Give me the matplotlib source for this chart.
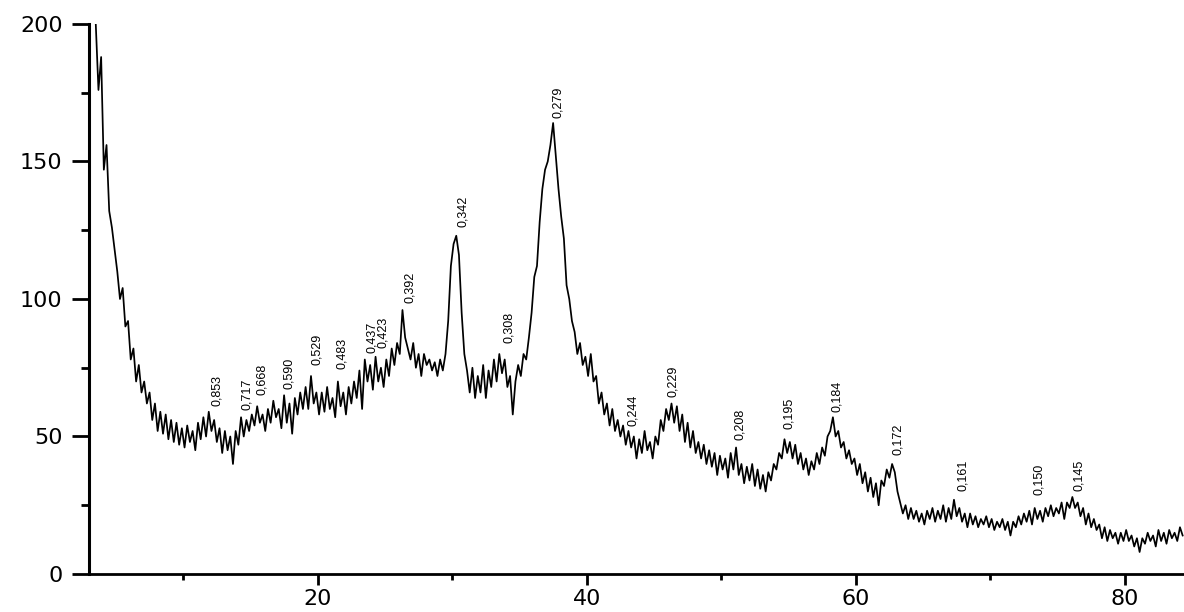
import numpy as np
import matplotlib
matplotlib.use("Agg")
import matplotlib.pyplot as plt
from matplotlib.ticker import MultipleLocator

# scan: 2theta from 3.5 deg in 0.2 deg steps, intensity
counts = [
    200, 176, 188,                 # 3.5 - 3.9
    147, 156, 132, 126, 118,       # 4
    110, 100, 104, 90, 92,         # 5
    78, 82, 70, 76, 66,            # 6
    70, 62, 66, 56, 62,            # 7
    52, 59, 51, 58, 49,            # 8
    56, 48, 55, 47, 53,            # 9
    46, 54, 48, 52, 45,            # 10
    55, 49, 57, 50, 59,            # 11
    52, 56, 48, 53, 44,            # 12
    52, 45, 50, 40, 52,            # 13
    47, 57, 50, 56, 52,            # 14
    58, 54, 61, 55, 58,            # 15
    52, 60, 55, 63, 57,            # 16
    60, 53, 65, 55, 62,            # 17
    51, 64, 58, 66, 60,            # 18
    68, 60, 72, 62, 66,            # 19
    58, 66, 59, 68, 60,            # 20
    64, 57, 70, 61, 66,            # 21
    58, 68, 62, 70, 64,            # 22
    74, 60, 78, 70, 76,            # 23
    67, 79, 70, 75, 68,            # 24
    78, 72, 82, 76, 84,            # 25
    80, 96, 86, 82, 78,            # 26
    84, 75, 80, 72, 80,            # 27
    76, 78, 74, 77, 72,            # 28
    78, 74, 80, 92, 112,           # 29
    120, 123, 116, 95, 80,         # 30
    74, 66, 75, 64, 72,            # 31
    66, 76, 64, 74, 68,            # 32
    78, 70, 80, 73, 78,            # 33
    68, 72, 58, 70, 76,            # 34
    72, 80, 78, 86, 95,            # 35
    108, 112, 128, 140, 147,       # 36
    150, 156, 164, 152, 140,       # 37
    130, 122, 105, 100, 92,        # 38
    88, 80, 84, 76, 79,            # 39
    72, 80, 70, 72, 62,            # 40
    66, 58, 62, 54, 60,            # 41
    52, 56, 50, 54, 47,            # 42
    52, 46, 50, 42, 49,            # 43
    44, 52, 45, 48, 42,            # 44
    50, 47, 56, 52, 60,            # 45
    56, 62, 55, 61, 52,            # 46
    58, 48, 55, 46, 52,            # 47
    44, 48, 42, 47, 40,            # 48
    45, 39, 44, 36, 43,            # 49
    38, 42, 35, 44, 38,            # 50
    46, 36, 40, 33, 39,            # 51
    34, 40, 32, 38, 31,            # 52
    36, 30, 37, 34, 40,            # 53
    38, 44, 42, 49, 44,            # 54
    48, 42, 47, 40, 44,            # 55
    38, 42, 36, 41, 38,            # 56
    44, 40, 46, 43, 50,            # 57
    52, 57, 50, 52, 46,            # 58
    48, 42, 45, 40, 42,            # 59
    36, 40, 33, 37, 30,            # 60
    35, 28, 33, 25, 34,            # 61
    32, 38, 35, 40, 37,            # 62
    30, 26, 22, 25, 20,            # 63
    24, 20, 23, 19, 22,            # 64
    18, 23, 20, 24, 19,            # 65
    23, 20, 25, 19, 24,            # 66
    20, 27, 21, 24, 19,            # 67
    22, 17, 22, 18, 21,            # 68
    17, 20, 18, 21, 17,            # 69
    20, 16, 19, 17, 20,            # 70
    16, 19, 14, 19, 17,            # 71
    21, 18, 22, 19, 23,            # 72
    18, 24, 20, 23, 19,            # 73
    24, 21, 25, 21, 24,            # 74
    22, 26, 20, 26, 24,            # 75
    28, 24, 26, 21, 24,            # 76
    18, 22, 17, 20, 16,            # 77
    18, 13, 17, 12, 16,            # 78
    13, 15, 11, 15, 12,            # 79
    16, 12, 14, 10, 13,            # 80
    8, 13, 11, 15, 12,             # 81
    14, 10, 16, 12, 15,            # 82
    11, 16, 13, 15, 12,            # 83
    17, 14,                        # 84
]
two_theta = 3.5 + 0.2 * np.arange(len(counts))

# d-spacing labels (nm) at their peaks
peak_labels = ["0,853", "0,717", "0,668", "0,590", "0,529", "0,483", "0,437",
               "0,423", "0,392", "0,342", "0,308", "0,279", "0,244", "0,229",
               "0,208", "0,195", "0,184", "0,172", "0,161", "0,150", "0,145"]
peak_pos = [12.04, 14.33, 15.39, 17.44, 19.47, 21.35, 23.62, 24.42, 26.38,
            30.33, 33.77, 37.40, 43.01, 45.98, 50.94, 54.61, 58.18, 62.67,
            67.50, 73.21, 76.18]
peak_top = [61.1, 59.6, 65.1, 67.3, 76.0, 74.5, 80.4, 82.2, 98.5, 126.2,
            84.0, 165.8, 53.8, 64.4, 48.7, 52.7, 58.9, 43.3, 30.2, 28.7, 30.2]

fig = plt.figure(figsize=(11.84, 6.12), dpi=100)
ax = fig.add_axes([0.0752, 0.0621, 0.9248, 0.8987])

ax.plot(two_theta, counts, color="black", lw=1.25)

for lab, px, py in zip(peak_labels, peak_pos, peak_top):
    ax.annotate(lab, xy=(px, py), xytext=(6, 0), textcoords="offset pixels",
                rotation=90, ha="center", va="bottom", fontsize=9,
                family=["Liberation Sans Narrow", "Liberation Sans", "DejaVu Sans"])

ax.set_xlim(3.0, 84.4)
ax.set_ylim(0, 200)
ax.xaxis.set_major_locator(MultipleLocator(20))
ax.xaxis.set_minor_locator(MultipleLocator(10))
ax.yaxis.set_major_locator(MultipleLocator(50))
ax.yaxis.set_minor_locator(MultipleLocator(25))

for side in ["top", "right"]:
    ax.spines[side].set_visible(False)
ax.spines["left"].set_linewidth(2.2)
ax.spines["bottom"].set_linewidth(2.0)

ax.tick_params(axis="y", which="major", direction="out", length=12, width=2, pad=7, labelsize=16)
ax.tick_params(axis="y", which="minor", direction="out", length=6, width=2)
ax.tick_params(axis="x", which="major", direction="out", length=8, width=2, pad=3, labelsize=16)
ax.tick_params(axis="x", which="minor", direction="out", length=4, width=2)

plt.savefig("out.png", dpi=100)
